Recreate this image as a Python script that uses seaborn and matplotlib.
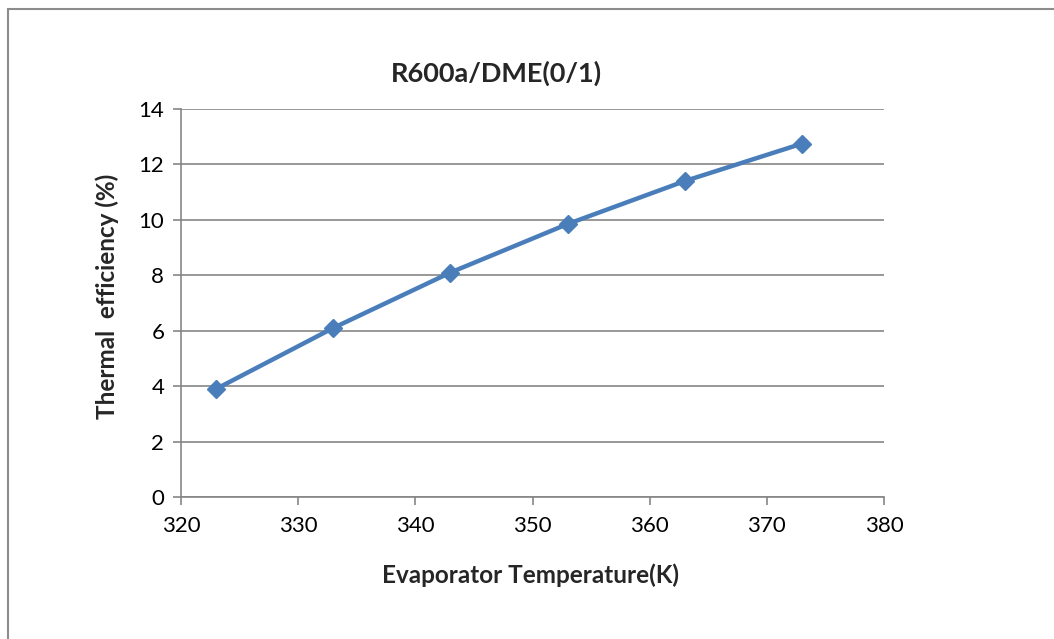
import matplotlib
matplotlib.use("Agg")
import matplotlib.pyplot as plt
import seaborn as sns
import pandas as pd

temperature_k = [323, 333, 343, 353, 363, 373]
thermal_efficiency = [3.9, 6.1, 8.1, 9.85, 11.4, 12.75]
x_ticks = [320, 330, 340, 350, 360, 370, 380]
y_ticks = [0, 2, 4, 6, 8, 10, 12, 14]

sns.set_style("white")
plt.rcParams['font.family'] = ['Lato', 'DejaVu Sans']

df = pd.DataFrame({"T": temperature_k, "eff": thermal_efficiency})

fig = plt.figure(figsize=(10.54, 6.39), dpi=100)
ax = fig.add_axes([181/1054, 1-497/639, (884-181)/1054, (497-109)/639])

grid_c = "#868686"
line_c = "#4A7EBB"

sns.lineplot(data=df, x="T", y="eff", ax=ax, color=line_c, linewidth=3.2,
             marker="D", markersize=9.5, markeredgecolor=line_c, markeredgewidth=1,
             zorder=3)

ax.set_xlim(320, 380)
ax.set_ylim(0, 14)
ax.set_xticks(x_ticks)
ax.set_yticks(y_ticks)
ax.yaxis.grid(True, color=grid_c, linewidth=1.2)
ax.set_axisbelow(True)

for s in ["top", "right"]:
    ax.spines[s].set_visible(False)
for s in ["left", "bottom"]:
    ax.spines[s].set_color(grid_c)
    ax.spines[s].set_linewidth(1.2)

ax.tick_params(axis="both", direction="out", length=6, width=1.2, color=grid_c,
               labelsize=16, labelcolor="black", pad=6)
ax.tick_params(axis="x", bottom=True, pad=8)
ax.tick_params(axis="y", left=True)

ax.set_xlabel("Evaporator Temperature(K)", fontsize=17.5, fontweight="bold")
ax.xaxis.set_label_coords((531-181)/(884-181), -(575-497)/(497-109))
ax.xaxis.label.set_va("center")
ax.set_ylabel("Thermal  efficiency (%)", fontsize=17.5, fontweight="bold")
ax.yaxis.set_label_coords(-(181-107)/(884-181), (497-296)/(497-109))
ax.yaxis.label.set_va("center")
fig.text(496/1054, 1-73/639, "R600a/DME(0/1)", ha="center", va="center",
         fontsize=19.5, fontweight="bold")

# chart frame (partially visible)
frame = plt.Rectangle((8/1054, -0.1), 1.2, 1-9/639 + 0.1, transform=fig.transFigure,
                      fill=False, edgecolor="#8c8c8c", linewidth=1.5)
fig.patches.append(frame)

fig.savefig("out.png", dpi=100)
